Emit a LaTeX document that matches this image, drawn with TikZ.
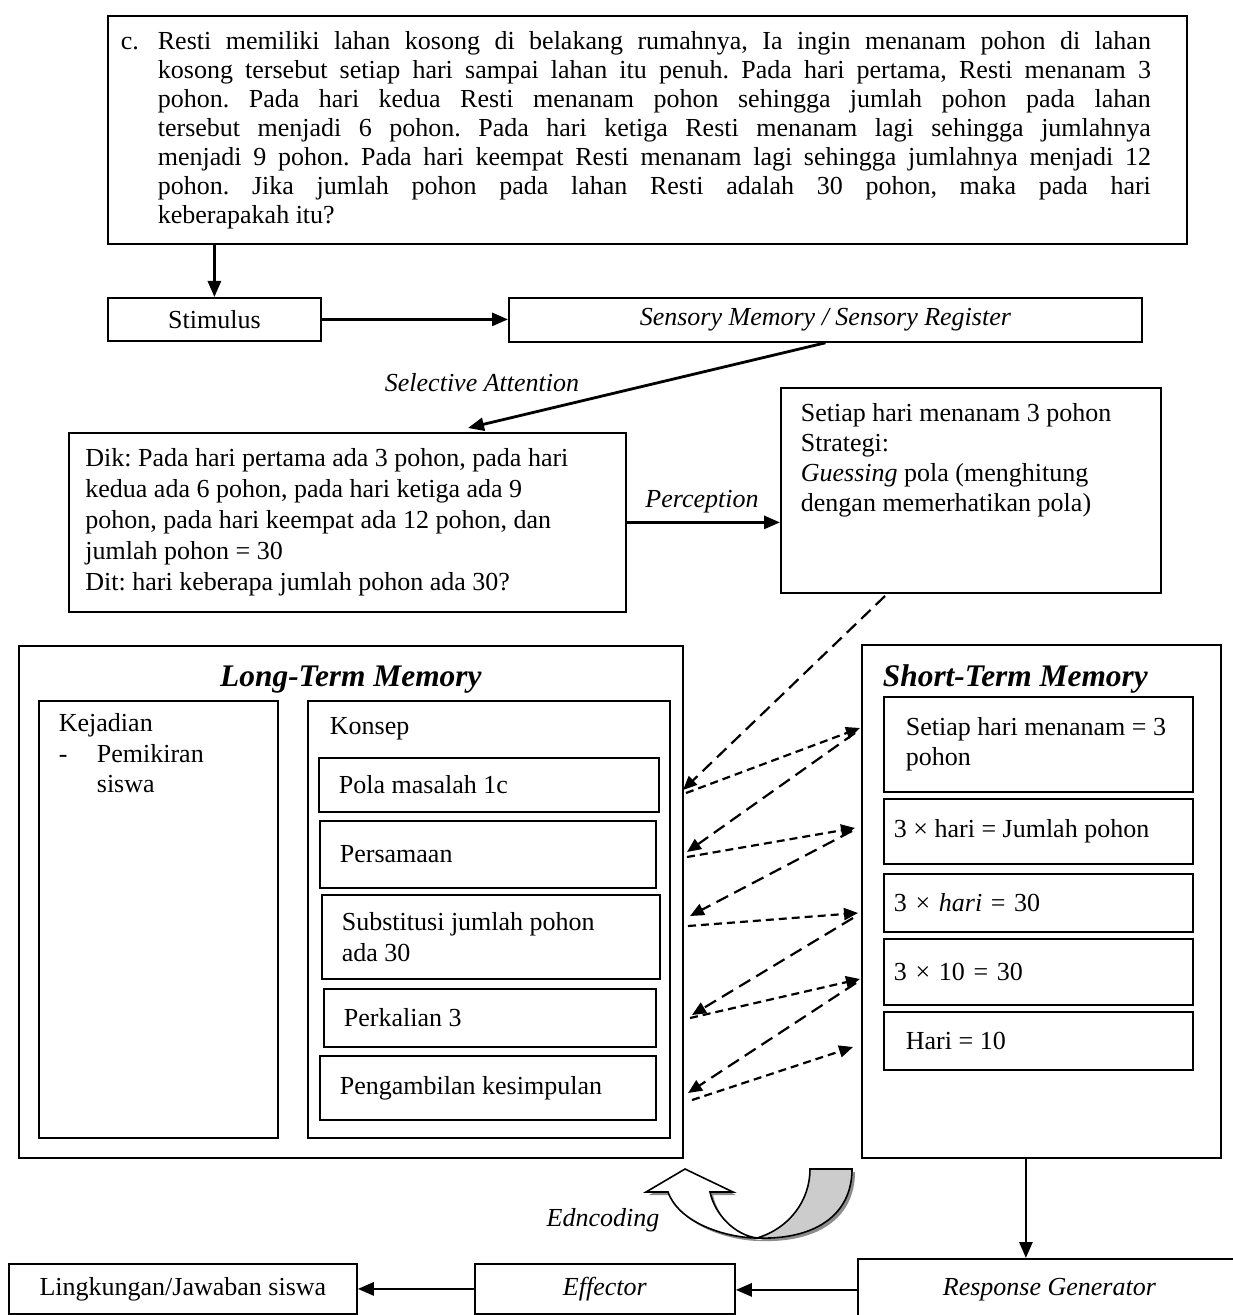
\documentclass[tikz,border=0pt]{standalone}
\usepackage{fontspec}
\setmainfont{Liberation Serif}
\usetikzlibrary{arrows.meta}
\frenchspacing
\newcommand{\plainsp}{\spaceskip=0pt\xspaceskip=0pt\relax}

\tikzset{
  box/.style={draw, line width=0.9pt, inner sep=0pt, anchor=north west},
  txtbox/.style={box, inner xsep=10pt, align=left},
  arr/.style={line width=1.4pt, -{Triangle[length=8pt,width=6.5pt]}},
  longdash/.style={line width=1.1pt, dash pattern=on 6.5pt off 3.5pt, -{Triangle[length=7pt,width=6pt]}},
  shortdash/.style={line width=1.1pt, dash pattern=on 4pt off 2.5pt, -{Triangle[length=7pt,width=6pt]}},
}

\begin{document}
\begin{tikzpicture}[x=0.5pt, y=-0.5pt, font=\fontsize{13}{14.5}\selectfont]
\useasboundingbox (0,0) rectangle (1232,1315);

% soal
\node[box, minimum width=539.5pt, minimum height=114pt, text width=539.5pt, align=justify] (soal) at (107,15)
  {\leftskip=6.5pt \rightskip=18pt \hangindent=18.5pt \hangafter=1
   \noindent\makebox[18.5pt][l]{c.}Resti memiliki lahan kosong di belakang rumahnya, Ia ingin menanam pohon di lahan\linebreak
   kosong tersebut setiap hari sampai lahan itu penuh. Pada hari pertama, Resti menanam 3\linebreak
   pohon. Pada hari kedua Resti menanam pohon sehingga jumlah pohon pada lahan\linebreak
   tersebut menjadi 6 pohon. Pada hari ketiga Resti menanam lagi sehingga jumlahnya\linebreak
   menjadi 9 pohon. Pada hari keempat Resti menanam lagi sehingga jumlahnya menjadi 12\linebreak
   pohon. Jika jumlah pohon pada lahan Resti adalah 30 pohon, maka pada hari\linebreak
   keberapakah itu?\par};

% stimulus, sensory register
\node[box, minimum width=106.5pt, minimum height=21.5pt] (stim) at (107,297) {Stimulus};
\node[box, minimum width=316.5pt, minimum height=22pt] (sens) at (508,297) {\textit{Sensory Memory / Sensory Register}};
\node (selatt) at (482,383) {\textit{Selective Attention}};
\coordinate (selend) at (468,428);

% dik / dit
\node[box, minimum width=278.5pt, minimum height=89.5pt, text width=262pt, align=left,
      font=\fontsize{13}{15.5}\selectfont] (dik) at (68,432)
  {\plainsp Dik: Pada hari pertama ada 3 pohon, pada hari\\
   kedua ada 6 pohon, pada hari ketiga ada 9\\
   pohon, pada hari keempat ada 12 pohon, dan\\
   jumlah pohon = 30\\
   Dit: hari keberapa jumlah pohon ada 30?};
\node (perc) at (702,502) {\textit{Perception}};

% strategi
\node[box, inner xsep=10pt, inner ysep=8pt] (guess) at (780,387)
  {\parbox[t][86.5pt][t]{170pt}{\baselineskip=15pt
   Setiap hari menanam 3 pohon\\
   Strategi:\\
   \textit{Guessing} pola (menghitung\\
   dengan memerhatikan pola)}};

% long-term memory
\node[box, inner ysep=10pt] (ltm) at (18,645)
  {\parbox[t][236pt][t]{332pt}{\centering\fontsize{15.7}{18}\selectfont\bfseries\itshape Long-Term Memory}};
\node[box, inner xsep=10pt, inner ysep=6.5pt] (event) at (38,700)
  {\parbox[t][205.5pt][t]{99.5pt}{\baselineskip=15.25pt
   Kejadian\\
   \makebox[19pt][l]{-}Pemikiran\\
   \hspace*{19pt}siswa}};
\node[box, inner xsep=11pt, inner ysep=8.5pt] (concept) at (307,700)
  {\parbox[t][201.5pt][t]{159pt}{Konsep}};
\node[txtbox, text width=150pt, minimum height=27pt] (pola) at (318,757) {\plainsp Pola masalah 1c};
\node[txtbox, text width=148pt, minimum height=33.5pt] (sama) at (319,820) {Persamaan};
\node[txtbox, text width=149pt, minimum height=42pt, font=\fontsize{13}{15.5}\selectfont] (subst) at (321,894)
  {\plainsp Substitusi jumlah pohon\\ ada 30};
\node[txtbox, text width=146pt, minimum height=29pt] (kali) at (323,988) {\plainsp Perkalian 3};
\node[txtbox, text width=148pt, minimum height=32pt] (simpul) at (319,1055) {\plainsp Pengambilan kesimpulan};

% short-term memory
\node[box, inner ysep=10pt] (stm) at (861,644)
  {\parbox[t][236.5pt][t]{179.5pt}{\fontsize{15.7}{18}\selectfont\bfseries\itshape\hspace*{10.5pt}Short-Term Memory}};
\node[txtbox, inner xsep=5pt, text width=144.5pt, minimum height=47.5pt, font=\fontsize{13}{15}\selectfont] (st1) at (883,696)
  {\plainsp\hspace*{6pt}Setiap hari menanam = 3\\ \hspace*{6pt}pohon};
\node[txtbox, inner xsep=5pt, text width=144.5pt, minimum height=32.5pt] (st2) at (883,798) {\plainsp 3 × hari = Jumlah pohon};
\node[txtbox, inner xsep=5pt, text width=144.5pt, minimum height=29pt] (st3) at (883,873) {3 × \textit{hari} = 30};
\node[txtbox, inner xsep=5pt, text width=144.5pt, minimum height=33pt] (st4) at (883,938) {3 × 10 = 30};
\node[txtbox, inner xsep=11pt, text width=132.5pt, minimum height=29pt] (st5) at (883,1011) {\plainsp Hari = 10};

% output
\node[box, minimum width=191.5pt, minimum height=31pt] (resp) at (857,1258) {\textit{Response Generator}};
\node[box, minimum width=130pt, minimum height=25pt] (eff) at (474,1263) {\textit{Effector}};
\node[box, minimum width=174pt, minimum height=25pt] (env) at (8,1263) {Lingkungan/Jawaban siswa};

% solid arrows
\draw[arr] (soal.south -| stim.north) -- (stim.north);
\draw[arr] (stim.east) -- (stim.east -| sens.west);
\draw[arr] (sens.south) -- (selend);
\draw[arr] (dik.east) -- (dik.east -| guess.west);
\draw[arr] ([xshift=-7.75pt]stm.south) -- ([xshift=-7.75pt]stm.south |- resp.north);
\draw[arr] (resp.west) -- (resp.west -| eff.east);
\draw[arr] (eff.west) -- (eff.west -| env.east);

% dashed arrows between memories
\coordinate (gs) at (885,596);
\coordinate (l1) at (683,790);  \coordinate (m1) at (686,793);  \coordinate (t1) at (860,728);
\coordinate (s1) at (855,733);  \coordinate (l2) at (687,852);
\coordinate (m2) at (687,857);  \coordinate (t2) at (855,828);
\coordinate (s2) at (852,831);  \coordinate (l3) at (690,916);
\coordinate (m3) at (688,926);  \coordinate (t3) at (858,913);
\coordinate (s3) at (853,918);  \coordinate (l4) at (692,1015);
\coordinate (m4) at (690,1018); \coordinate (t4) at (860,979);
\coordinate (s4) at (856,983);  \coordinate (l5) at (688,1093);
\coordinate (m5) at (692,1100); \coordinate (t5) at (853,1047);
\draw[longdash] (gs) -- (l1);
\draw[longdash] (s1) -- (l2);
\draw[longdash] (s2) -- (l3);
\draw[longdash] (s3) -- (l4);
\draw[longdash] (s4) -- (l5);
\draw[shortdash] (m1) -- (t1);
\draw[shortdash] (m2) -- (t2);
\draw[shortdash] (m3) -- (t3);
\draw[shortdash] (m4) -- (t4);
\draw[shortdash] (m5) -- (t5);

% encoding arrow
\fill[black!45, shift={(3,3)}] (852,1169) .. controls (852,1215) and (815,1240) .. (757,1238)
  .. controls (730,1238) and (680,1225) .. (668,1192) -- (646,1192) -- (685,1169) -- (733,1192) -- (710,1192)
  .. controls (715,1215) and (735,1235) .. (757,1237) .. controls (790,1228) and (810,1200) .. (810,1169) -- cycle;
\filldraw[fill=black!20, line width=0.8pt] (810,1169) -- (852,1169) .. controls (852,1215) and (815,1240) .. (757,1238)
  .. controls (790,1228) and (810,1200) .. (810,1169) -- cycle;
\filldraw[fill=white, line width=0.8pt] (757,1238) .. controls (730,1238) and (680,1225) .. (668,1192)
  -- (646,1192) -- (685,1169) -- (733,1192) -- (710,1192) .. controls (715,1215) and (735,1235) .. (757,1238) -- cycle;
\node (enc) at (603,1220) {\textit{Edncoding}};
\end{tikzpicture}
\end{document}
